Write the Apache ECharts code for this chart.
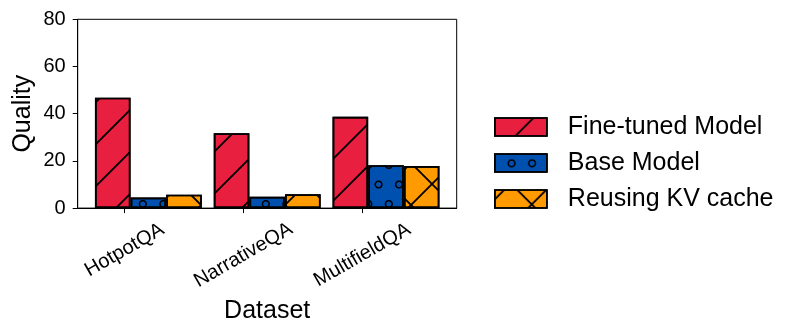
<!DOCTYPE html>
<html>
<head>
<meta charset="utf-8">
<script src="https://cdn.jsdelivr.net/npm/echarts@6/dist/echarts.min.js"></script>
<style>html,body{margin:0;padding:0;background:#fff}#c{width:798px;height:335px}</style>
</head>
<body>
<div id="c"></div>
<script>
// ---- data ----
const categories = ['HotpotQA', 'NarrativeQA', 'MultifieldQA'];
const seriesNames = ['Fine-tuned Model', 'Base Model', 'Reusing KV cache'];
const fineTuned = [46.8, 31.7, 38.7];
const baseModel = [4.5, 4.8, 18.2];
const reusingKV = [5.7, 5.9, 17.8];
const yTicks = [0, 20, 40, 60, 80];

// ---- layout / style ----
const BAR_W = 0.3;          // bar width in x units
const TICK_OFF = 0.1;       // tick offset from first bar centre
const X_MIN = -0.295, X_MAX = 2.895;
const LABEL_MARGINS = [42, 47, 47];
const colors = ['#E81F3F', '#0050B0', '#FF9A00'];
const FONT = 'Liberation Sans, Arial, sans-serif';

// ---- hatch tile helpers ----
function clipHalf(poly, a, b, c) {
  const out = [];
  for (let i = 0; i < poly.length; i++) {
    const P = poly[i], Q = poly[(i + 1) % poly.length];
    const fp = a * P[0] + b * P[1] + c, fq = a * Q[0] + b * Q[1] + c;
    if (fp >= 0) out.push(P);
    if ((fp >= 0) !== (fq >= 0)) {
      const t = fp / (fp - fq);
      out.push([P[0] + t * (Q[0] - P[0]), P[1] + t * (Q[1] - P[1])]);
    }
  }
  return out;
}
function clipRect(poly, W, H) {
  let p = clipHalf(poly, 1, 0, 0);
  p = clipHalf(p, -1, 0, W);
  p = clipHalf(p, 0, 1, 0);
  p = clipHalf(p, 0, -1, H);
  return p;
}
function area(p) {
  let s = 0;
  for (let i = 0; i < p.length; i++) {
    const a = p[i], b = p[(i + 1) % p.length];
    s += a[0] * b[1] - b[0] * a[1];
  }
  return s / 2;
}
function orient(p, sign) { return sign * area(p) < 0 ? p.slice().reverse() : p; }
function toPath(polys, W, H) {
  let d = 'M0,0L0.05,0L0,0.05Z';
  d += 'M' + W + ',' + H + 'L' + (W - 0.05) + ',' + H + 'L' + W + ',' + (H - 0.05) + 'Z';
  polys.forEach(p => {
    if (p.length < 3 || Math.abs(area(p)) < 1e-4) return;
    d += 'M' + p.map(q => q[0].toFixed(2) + ',' + q[1].toFixed(2)).join('L') + 'Z';
  });
  return 'path://' + d;
}
function slashBands(P, s, t) { // x + y = s (mod P)
  const L = 12, out = [];
  for (let k = -1; k <= 2; k++) {
    const c = s + k * P;
    const poly = [[-L, c - t + L], [P + L, c - t - P - L], [P + L, c + t - P - L], [-L, c + t + L]];
    const cp = clipRect(poly, P, P);
    if (cp.length >= 3) out.push(orient(cp, 1));
  }
  return out;
}
function backBands(P, d, t) { // x - y = d (mod P)
  const L = 12, out = [];
  for (let k = -2; k <= 1; k++) {
    const c = d + k * P;
    const poly = [[-L, -L - c - t], [P + L, P + L - c - t], [P + L, P + L - c + t], [-L, -L - c + t]];
    const cp = clipRect(poly, P, P);
    if (cp.length >= 3) out.push(orient(cp, 1));
  }
  return out;
}
function circlePoly(cx, cy, r, n) {
  const p = [];
  for (let i = 0; i < n; i++) {
    const a = 2 * Math.PI * i / n;
    p.push([cx + r * Math.cos(a), cy + r * Math.sin(a)]);
  }
  return p;
}
function ringTile(W, H, centers, ro, ri) {
  const out = [];
  centers.forEach(c => {
    for (let dx = -1; dx <= 1; dx++) for (let dy = -1; dy <= 1; dy++) {
      const x = c[0] + dx * W, y = c[1] + dy * H;
      const o = clipRect(circlePoly(x, y, ro, 28), W, H);
      if (o.length < 3) continue;
      out.push(orient(o, 1));
      const inn = clipRect(circlePoly(x, y, ri, 28), W, H);
      if (inn.length >= 3) out.push(orient(inn, -1));
    }
  });
  return out;
}

const HP = 42, HT = 1.3, CW = 41, CH = 39, RO = 4.1, RI = 2.6;
function decal(sym, W, H) {
  return { symbol: sym, symbolSize: 1, symbolKeepAspect: false, dashArrayX: [W, 0], dashArrayY: [H, 0], color: '#000', rotation: 0 };
}
function slashDecal(s) { return decal(toPath(slashBands(HP, s, HT), HP, HP), HP, HP); }
function crossDecal(s, d) { return decal(toPath(slashBands(HP, s, HT).concat(backBands(HP, d, HT)), HP, HP), HP, HP); }
function ringDecal(ax, ay) {
  const cs = [[ax, ay], [ax + 20.5, ay], [ax - 10.25 + (ax < 10.25 ? 41 : 0), ay + 19.5], [ax + 10.25, ay + 19.5]];
  return decal(toPath(ringTile(CW, CH, cs, RO, RI), CW, CH), CW, CH);
}
// bars are anchored to the canvas origin; legend icons to the icon's top-left corner
const barDecals = [slashDecal(30), ringDecal(19.8, 9), crossDecal(28, 38)];
const legendDecals = [slashDecal(38.5), ringDecal(16.7, 9.3), crossDecal(9.2, 22.5)];

const values = [fineTuned, baseModel, reusingKV];
const series = values.map((vals, k) => ({
  type: 'bar',
  name: seriesNames[k],
  xAxisIndex: 0,
  yAxisIndex: 0,
  barWidth: 35.6,
  barGap: '-100%',
  data: vals.map((v, i) => [i + k * BAR_W, v]),
  itemStyle: { color: colors[k], borderColor: '#000', borderWidth: 1.7, decal: barDecals[k] },
  emphasis: { disabled: true }
}));

const xAxes = categories.map((cat, i) => ({
  type: 'value',
  gridIndex: 0,
  position: 'bottom',
  min: X_MIN,
  max: X_MAX,
  splitLine: { show: false },
  axisLine: { show: i === 0, onZero: false, lineStyle: { color: '#000', width: 1 } },
  axisTick: i === 0 ? { show: true, customValues: categories.map((c, j) => j + TICK_OFF), length: 5, lineStyle: { color: '#000', width: 1 } } : { show: false },
  axisLabel: {
    customValues: [i + TICK_OFF],
    formatter: () => cat,
    rotate: 30,
    align: 'center',
    verticalAlign: 'middle',
    margin: LABEL_MARGINS[i],
    fontSize: 20,
    color: '#000',
    fontFamily: FONT
  },
  name: i === 0 ? 'Dataset' : '',
  nameLocation: 'middle',
  nameGap: 91,
  nameMoveOverlap: false,
  nameTextStyle: { fontSize: 25, color: '#000', fontFamily: FONT }
}));

const option = {
  animation: false,
  backgroundColor: '#fff',
  textStyle: { fontFamily: FONT },
  grid: { left: 77.7, top: 19.3, width: 379, height: 188.8, show: true, borderColor: '#000', borderWidth: 1, backgroundColor: 'transparent', containLabel: false, outerBoundsMode: 'none' },
  legend: {
    orient: 'vertical',
    left: 489,
    top: 109.5,
    itemWidth: 52,
    itemHeight: 18,
    itemGap: 11,
    icon: 'rect',
    data: seriesNames.map((n, k) => ({ name: n, itemStyle: { decal: legendDecals[k] } })),
    selectedMode: false,
    itemStyle: { borderColor: '#000', borderWidth: 1.7 },
    textStyle: { fontSize: 25, color: '#000', fontFamily: FONT, lineHeight: 25, padding: [0, 0, 0, 16] }
  },
  xAxis: xAxes,
  yAxis: {
    type: 'value',
    min: yTicks[0],
    max: yTicks[yTicks.length - 1],
    interval: yTicks[1] - yTicks[0],
    splitLine: { show: false },
    axisLine: { show: true, onZero: false, lineStyle: { color: '#000', width: 1 } },
    axisTick: { show: true, length: 5, lineStyle: { color: '#000', width: 1 } },
    axisLabel: { fontSize: 20, color: '#000', margin: 12, fontFamily: FONT },
    name: 'Quality',
    nameLocation: 'middle',
    nameRotate: 90,
    nameGap: 42,
    nameMoveOverlap: false,
    nameTextStyle: { fontSize: 25, color: '#000', fontFamily: FONT }
  },
  series: series
};
const chart = echarts.init(document.getElementById('c'), null, { renderer: 'canvas' });
chart.setOption(option);
</script>
</body>
</html>
